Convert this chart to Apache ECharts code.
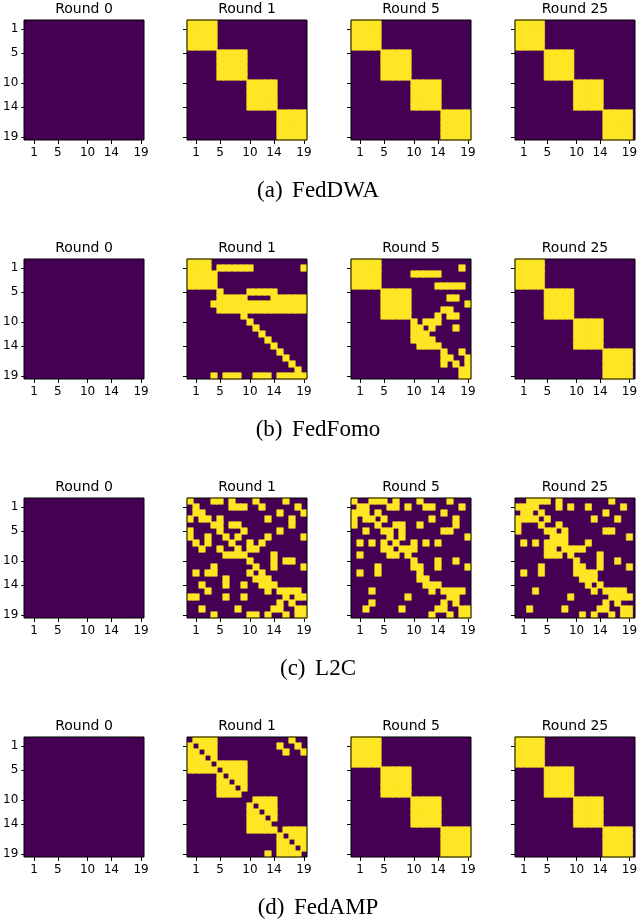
<!DOCTYPE html>
<html><head><meta charset="utf-8">
<script src="https://cdn.jsdelivr.net/npm/echarts/dist/echarts.min.js"></script>
<style>html,body{margin:0;padding:0;background:#fff;overflow:hidden}#c{width:640px;height:921px}</style>
</head><body><div id="c"></div>
<script>
// ---- data ----
const categories = ['0','1','2','3','4','5','6','7','8','9','10','11','12','13','14','15','16','17','18','19'];
const tickLabels = ['1','5','10','14','19'];
const roundNames = ['Round 0','Round 1','Round 5','Round 25'];
const methodCaptions = ['(a) \u2006FedDWA','(b) \u2006FedFomo','(c) \u2006L2C','(d) \u2006FedAMP'];

const allZero = [
'00000000000000000000','00000000000000000000','00000000000000000000','00000000000000000000','00000000000000000000',
'00000000000000000000','00000000000000000000','00000000000000000000','00000000000000000000','00000000000000000000',
'00000000000000000000','00000000000000000000','00000000000000000000','00000000000000000000','00000000000000000000',
'00000000000000000000','00000000000000000000','00000000000000000000','00000000000000000000','00000000000000000000'];

const blockDiag = [
'11111000000000000000','11111000000000000000','11111000000000000000','11111000000000000000','11111000000000000000',
'00000111110000000000','00000111110000000000','00000111110000000000','00000111110000000000','00000111110000000000',
'00000000001111100000','00000000001111100000','00000000001111100000','00000000001111100000','00000000001111100000',
'00000000000000011111','00000000000000011111','00000000000000011111','00000000000000011111','00000000000000011111'];

const fedFomoRound1 = [
'11110000000000000000','11110111111000000001','11111000000000000000','11111000000000000000','11111000000000000000',
'00000100001111100000','00000111110000111111','00001111111111111111','00000111111111111111','00000000010000000000',
'00000000001000000000','00000000000100000000','00000000000010000000','00000000000001000000','00000000000000100000',
'00000000000000010000','00000000000000001000','00000000000000000100','00000000000000000010','00001011100111011111'];

const fedFomoRound5 = [
'11111000000000000000','11111000000000000010','11111000001111100000','11111000000000000000','11111000000000111110',
'00000111110000000000','00000111110000001100','00000111110000000001','00000111110000011000','00000111110000101100',
'00000000001011100000','00000000001101000100','00000000001110000000','00000000001111000000','00000000000111100000',
'00000000000000010010','00000000000000011001','00000000000000010101','00000000000000000011','00000000000000000011'];

const l2cRound1 = [
'10001101000100001000','01000001110010000010','01100000000000010001','10110100000001000100','00001101100000000100',
'10000100010000010000','10010010100001000001','01010001001010000000','00100100101100000000','00000011110000100000',
'00000000001000101100','00001000000100100001','01011000001010000000','00000010000111000000','00100010010011100000',
'00010000000001011110','11000010010000001011','00000000000000010100','00100000100000110011','00001000001101001011'];

const l2cRound5 = [
'10011101000100001000','01100011010011000010','11101000000000010000','10110100000001000100','10001001100100000100',
'00100110100000011000','00000010100000000001','01010101001010100000','00000110111000000000','01000011010000000000',
'00000000001000100100','00001000001100100001','01001000000100000000','00000000000110000000','00000000000011100000',
'00010000000001011110','00000000010000001100','00010000000000010100','00100000100000110011','00000000000001001011'];

const l2cRound25 = [
'00111101000000001000','11110001010010000010','01101000000000010000','11110100000001000100','10001001000000000000',
'10000110100000011000','00000011100000000001','01010111100010000000','00000110111100000000','00000111010000100000',
'00000000001000100100','00001000001100100001','01001000001111000000','00000000000111000000','00000000000010100000',
'00010000000001011110','00000000010000001111','00000000000000010100','00100000100000110011','00000000000101001011'];

const fedAmpRound1 = [
'01111000000000000100','10111000000000010010','11011000000000001001','11101000000000000000','11110111110000000000',
'11111011110000000000','00000101110000000000','00000110110000000000','00000111010000000000','00000111100000000000',
'00000000000111100000','00000000001011100000','00000000001101100000','00000000001110100000','00000000001111000000',
'00000000001111101111','00000000000000010111','00000000000000011011','00000000000000011101','00000000000001011110'];

const panelRows = [
  [allZero, blockDiag, blockDiag, blockDiag],        // FedDWA
  [allZero, fedFomoRound1, fedFomoRound5, blockDiag], // FedFomo
  [allZero, l2cRound1, l2cRound5, l2cRound25],      // L2C
  [allZero, fedAmpRound1, blockDiag, blockDiag]      // FedAMP
];

// ---- layout ----
const colLeft = [24, 187, 351, 515];
const rowTop = [20, 259, 498, 737];
const PW = 120, PH = 120;
const DARK = '#440154', YELLOW = '#fde725';

const chart = echarts.init(document.getElementById('c'), null, {renderer:'canvas'});
const grids = [], xAxes = [], yAxes = [], series = [], graphics = [];
const showTick = (i, v) => tickLabels.indexOf(String(v)) >= 0;

for (let m = 0; m < 4; m++) {
  for (let k = 0; k < 4; k++) {
    const g = m * 4 + k;
    grids.push({left: colLeft[k], top: rowTop[m], width: PW, height: PH, containLabel: false});
    xAxes.push({
      gridIndex: g, type: 'category', data: categories, position: 'bottom',
      axisLine: {show: false}, splitLine: {show: false},
      axisTick: {show: true, alignWithLabel: true, interval: showTick, length: 4, lineStyle: {color: '#000', width: 1}},
      axisLabel: {show: true, interval: showTick, margin: 7, color: '#000', fontSize: 12, fontFamily: 'DejaVu Sans'}
    });
    yAxes.push({
      gridIndex: g, type: 'category', data: categories, inverse: true,
      axisLine: {show: false}, splitLine: {show: false},
      axisTick: {show: true, alignWithLabel: true, interval: showTick, length: 4, lineStyle: {color: '#000', width: 1}},
      axisLabel: {show: k === 0, interval: showTick, margin: 7, color: '#000', fontSize: 12, fontFamily: 'DejaVu Sans'}
    });
    const mat = panelRows[m][k];
    const data = [];
    // value-0 cells are the dark panel background; value-1 cells are drawn by the heatmap
    for (let r = 0; r < 20; r++) for (let c = 0; c < 20; c++) {
      const v = Number(mat[r][c]);
      if (v > 0) data.push([c, r, v]);
    }
    series.push({type: 'heatmap', xAxisIndex: g, yAxisIndex: g, data: data,
      itemStyle: {borderWidth: 0.6, borderColor: YELLOW}, emphasis: {disabled: true}, progressive: 0});
    graphics.push({type: 'rect', z: -1, silent: true, shape: {x: colLeft[k], y: rowTop[m], width: PW, height: PH},
      style: {fill: DARK}});
    graphics.push({type: 'rect', z: 100, silent: true, shape: {x: colLeft[k], y: rowTop[m], width: PW, height: PH},
      style: {fill: 'none', stroke: '#000', lineWidth: 1}});
    graphics.push({type: 'text', z: 100, x: colLeft[k] + PW / 2, y: rowTop[m] - 11,
      style: {text: roundNames[k], fill: '#000', fontSize: 14, fontFamily: 'DejaVu Sans', align: 'center', verticalAlign: 'middle'}});
  }
  graphics.push({type: 'text', z: 100, x: 318, y: rowTop[m] + 170.5,
    style: {text: methodCaptions[m], fill: '#000', fontSize: 23, fontFamily: 'Liberation Serif', align: 'center', verticalAlign: 'middle'}});
}

chart.setOption({
  animation: false,
  backgroundColor: '#fff',
  grid: grids, xAxis: xAxes, yAxis: yAxes, series: series,
  visualMap: {type: 'piecewise', show: false, seriesIndex: series.map((s, i) => i), dimension: 2,
    pieces: [{min: 0.5, max: 1.5, color: YELLOW}]},
  graphic: graphics
});
</script></body></html>
